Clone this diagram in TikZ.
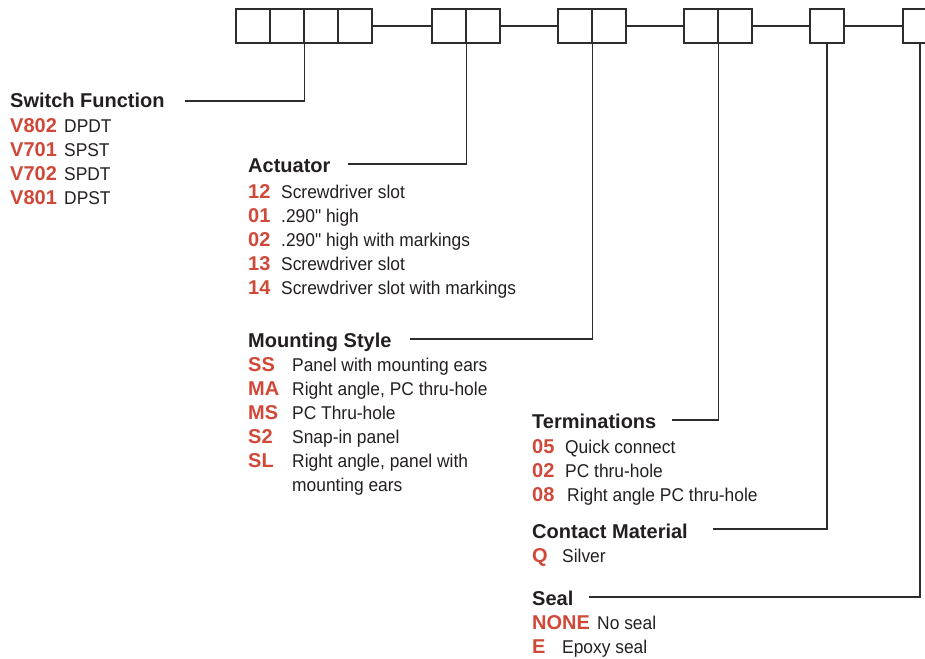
\documentclass[tikz,border=0pt]{standalone}
\usepackage{fontspec}
\setmainfont{Liberation Sans}
\newfontfamily\descfont[FakeStretch=0.94]{Liberation Sans}
\definecolor{codered}{RGB}{208,72,56}
\definecolor{ink}{RGB}{35,31,32}
\definecolor{linec}{RGB}{45,45,45}
\newcommand{\inch}{\symbol{34}}
\begin{document}
\begin{tikzpicture}[x=1pt,y=-1pt,
  cell/.style={draw=linec,line width=1.1pt,minimum size=34pt,inner sep=0pt},
  lead/.style={draw=linec,line width=1.1pt},
  head/.style={anchor=base west,inner sep=0pt,text=ink,font=\fontsize{20}{24}\selectfont\bfseries},
  code/.style={anchor=base west,inner sep=0pt,text=codered,font=\fontsize{20}{24}\selectfont\bfseries},
  desc/.style={anchor=base west,inner sep=0pt,text=ink,font=\descfont\fontsize{18.5}{24}\selectfont}]
\useasboundingbox (0,0) rectangle (925,658);
\clip (0,0) rectangle (925,658);
% boxes
\node[cell] (a1) at (253,26) {};
\node[cell] (a2) at (287,26) {};
\node[cell] (a3) at (321,26) {};
\node[cell] (a4) at (355,26) {};
\node[cell] (b1) at (449,26) {};
\node[cell] (b2) at (483,26) {};
\node[cell] (c1) at (575,26) {};
\node[cell] (c2) at (609,26) {};
\node[cell] (d1) at (701,26) {};
\node[cell] (d2) at (735,26) {};
\node[cell] (e1) at (827,26) {};
\node[cell] (f1) at (920,26) {};
\draw[lead] (a4.east) -- (b1.west);
\draw[lead] (b2.east) -- (c1.west);
\draw[lead] (c2.east) -- (d1.west);
\draw[lead] (d2.east) -- (e1.west);
\draw[lead] (e1.east) -- (f1.west);
% Switch Function
\node[head] (swf) at (10,108) {Switch Function};
\node[code] (sw1c) at (10,132) {V802};
\node[desc] (sw1d) at (64,132) {DPDT};
\node[code] (sw2c) at (10,156) {V701};
\node[desc] (sw2d) at (64,156) {SPST};
\node[code] (sw3c) at (10,180) {V702};
\node[desc] (sw3d) at (64,180) {SPDT};
\node[code] (sw4c) at (10,204) {V801};
\node[desc] (sw4d) at (64,204) {DPST};
% Actuator
\node[head] (act) at (248,172) {Actuator};
\node[code] (ac1c) at (248,198) {12};
\node[desc] (ac1d) at (281,198) {Screwdriver slot};
\node[code] (ac2c) at (248,222) {01};
\node[desc] (ac2d) at (281,222) {.290\inch\ high};
\node[code] (ac3c) at (248,246) {02};
\node[desc] (ac3d) at (281,246) {.290\inch\ high with markings};
\node[code] (ac4c) at (248,270) {13};
\node[desc] (ac4d) at (281,270) {Screwdriver slot};
\node[code] (ac5c) at (248,294) {14};
\node[desc] (ac5d) at (281,294) {Screwdriver slot with markings};
% Mounting Style
\node[head] (mnt) at (248,347) {Mounting Style};
\node[code] (mt1c) at (248,371) {SS};
\node[desc] (mt1d) at (292,371) {Panel with mounting ears};
\node[code] (mt2c) at (248,395) {MA};
\node[desc] (mt2d) at (292,395) {Right angle, PC thru-hole};
\node[code] (mt3c) at (248,419) {MS};
\node[desc] (mt3d) at (292,419) {PC Thru-hole};
\node[code] (mt4c) at (248,443) {S2};
\node[desc] (mt4d) at (292,443) {Snap-in panel};
\node[code] (mt5c) at (248,467) {SL};
\node[desc] (mt5d) at (292,467) {Right angle, panel with};
\node[desc] (mt5e) at (292,491) {mounting ears};
% Terminations
\node[head] (trm) at (532,428) {Terminations};
\node[code] (tr1c) at (532,453) {05};
\node[desc] (tr1d) at (565,453) {Quick connect};
\node[code] (tr2c) at (532,477) {02};
\node[desc] (tr2d) at (565,477) {PC thru-hole};
\node[code] (tr3c) at (532,501) {08};
\node[desc] (tr3d) at (567,501) {Right angle PC thru-hole};
% Contact Material
\node[head] (cm) at (532,538) {Contact Material};
\node[code] (cm1c) at (532,562) {Q};
\node[desc] (cm1d) at (562,562) {Silver};
% Seal
\node[head] (sel) at (532,605) {Seal};
\node[code] (se1c) at (532,629) {NONE};
\node[desc] (se1d) at (597,629) {No seal};
\node[code] (se2c) at (532,653) {E};
\node[desc] (se2d) at (562,653) {Epoxy seal};
% leader lines
\coordinate (swfL) at (185,101);
\coordinate (actL) at (348,164);
\coordinate (mntL) at (410,339);
\coordinate (trmL) at (672,420);
\coordinate (cmL) at (713,529);
\coordinate (selL) at (589,597);
\draw[lead] (swfL) -| (a2.south east);
\draw[lead] (actL) -| (b1.south east);
\draw[lead] (mntL) -| (c1.south east);
\draw[lead] (trmL) -| (d1.south east);
\draw[lead] (cmL) -| (e1.south);
\draw[lead] (selL) -| (f1.south);
\end{tikzpicture}
\end{document}
